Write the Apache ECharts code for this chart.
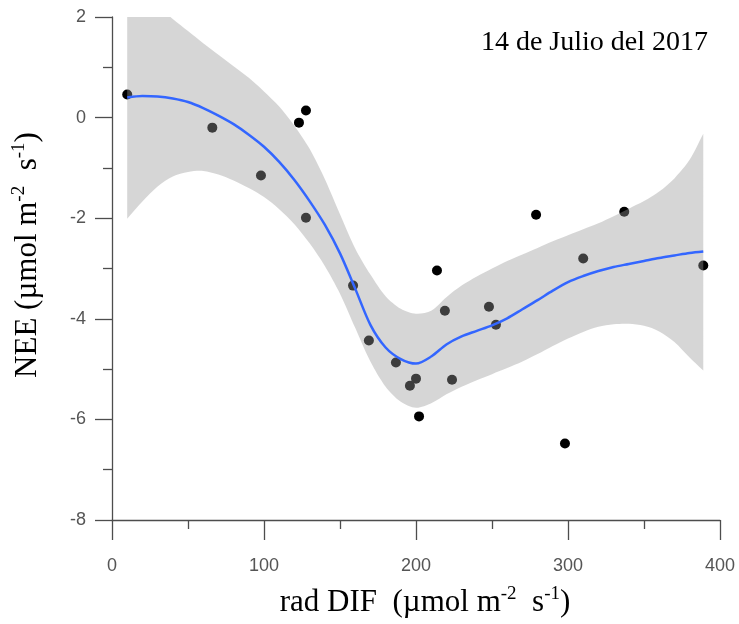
<!DOCTYPE html>
<html>
<head>
<meta charset="utf-8">
<title>NEE vs rad DIF</title>
<script src="https://cdn.jsdelivr.net/npm/echarts@6/dist/echarts.min.js"></script>
<style>
  html, body { margin: 0; padding: 0; background: #fff; }
  #chart { width: 739px; height: 624px; }
</style>
</head>
<body>
<div id="chart"></div>
<script>
// Observations: diffuse radiation (x) vs NEE (y)
const obsX = [10, 66, 98, 123, 127.6, 127.6, 158.6, 169, 186.8, 196, 200, 202, 213.8, 219, 223.7, 248, 252.6, 279, 298, 310, 337, 389];
const obsY = [0.46, -0.20, -1.15, -0.10, 0.14, -1.99, -3.34, -4.43, -4.87, -5.33, -5.19, -5.94, -3.04, -3.84, -5.21, -3.76, -4.12, -1.93, -6.48, -2.80, -1.87, -2.94];

// Smoothed fit and its confidence band, sampled along x
const fitX = [10, 20, 30, 40, 50, 60, 70, 80, 90, 100, 110, 120, 130, 140, 150, 160, 170, 180, 190, 200,
              210, 220, 230, 240, 250, 260, 270, 280, 290, 300, 310, 320, 330, 340, 350, 360, 370, 380, 389];
const fitY = [0.40, 0.43, 0.42, 0.38, 0.31, 0.19, 0.04, -0.13, -0.34, -0.58, -0.88, -1.24, -1.66, -2.13, -2.70, -3.40, -4.12, -4.57, -4.80, -4.89,
              -4.75, -4.51, -4.35, -4.24, -4.13, -3.99, -3.81, -3.63, -3.44, -3.27, -3.15, -3.05, -2.97, -2.91, -2.85, -2.79, -2.74, -2.69, -2.66];
const bandUpper = [2.80, 2.50, 2.22, 1.96, 1.72, 1.48, 1.25, 1.02, 0.79, 0.52, 0.22, -0.16, -0.62, -1.22, -1.92, -2.60, -3.12, -3.55, -3.80, -3.90,
                   -3.84, -3.57, -3.34, -3.16, -3.00, -2.85, -2.72, -2.59, -2.46, -2.34, -2.22, -2.10, -1.96, -1.81, -1.66, -1.47, -1.21, -0.84, -0.32];
const bandLower = [-2.01, -1.67, -1.37, -1.17, -1.08, -1.06, -1.13, -1.25, -1.40, -1.58, -1.82, -2.12, -2.50, -2.95, -3.50, -4.18, -4.85, -5.35, -5.65, -5.77,
                   -5.68, -5.50, -5.35, -5.22, -5.10, -4.98, -4.85, -4.70, -4.54, -4.39, -4.26, -4.16, -4.11, -4.10, -4.14, -4.25, -4.46, -4.77, -5.03];

// Axis ranges and tick steps
const xRange = [0, 400], xStep = 100;
const yRange = [-8, 2], yStep = 2;

const titleText = '14 de Julio del 2017';
const xTitle = 'rad DIF  (µmol m{sup|-2}  s{sup|-1})';
const yTitle = 'NEE (µmol m{sup|-2}  s{sup|-1})';

const pairs = (xs, ys) => xs.map((x, i) => [x, ys[i]]);
const axisGrey = '#4d4d4d';
const serif = '"Liberation Serif", "Times New Roman", serif';

function axisCommon(tickLen, minorLen, labelMargin) {
  return {
    type: 'value',
    axisLine: { show: true, onZero: false, lineStyle: { color: axisGrey, width: 1.3 } },
    axisTick: { show: true, length: tickLen, lineStyle: { color: axisGrey, width: 1.3 } },
    minorTick: { show: true, splitNumber: 2, length: minorLen, lineStyle: { color: axisGrey, width: 1.3 } },
    splitLine: { show: false },
    minorSplitLine: { show: false },
    axisLabel: { color: '#555', fontSize: 18, fontFamily: '"Liberation Sans", Arial, sans-serif', margin: labelMargin }
  };
}

// Confidence ribbon: upper edge left to right, then lower edge back.
// Corner points are repeated so the smoothing keeps the ends square.
function renderBand(params, api) {
  const n = fitX.length;
  const pts = [];
  const up = i => api.coord([fitX[i], bandUpper[i]]);
  const lo = i => api.coord([fitX[i], bandLower[i]]);
  pts.push(up(0));
  for (let i = 0; i < n; i++) pts.push(up(i));
  pts.push(up(n - 1));
  pts.push(lo(n - 1));
  for (let i = n - 1; i >= 0; i--) pts.push(lo(i));
  pts.push(lo(0));
  const cs = params.coordSys;
  return {
    type: 'polygon',
    shape: { points: pts, smooth: 0.3 },
    style: { fill: 'rgba(153,153,153,0.4)', stroke: null },
    clipPath: { type: 'rect', shape: { x: cs.x, y: cs.y, width: cs.width, height: cs.height } }
  };
}

const titleRich = {
  sup: { fontSize: 19, lineHeight: 19, verticalAlign: 'top', fontFamily: serif, fill: '#000' }
};

const chart = echarts.init(document.getElementById('chart'), null, { renderer: 'canvas' });

chart.setOption({
  animation: false,
  backgroundColor: '#fff',
  grid: { left: 112, right: 19, top: 17, bottom: 104 },
  xAxis: Object.assign(axisCommon(20, 9, 37), { min: xRange[0], max: xRange[1], interval: xStep }),
  yAxis: Object.assign(axisCommon(17, 9, 26), { min: yRange[0], max: yRange[1], interval: yStep }),
  series: [
    {
      name: 'obs',
      type: 'scatter',
      z: 1,
      symbolSize: 10,
      itemStyle: { color: '#000', opacity: 1 },
      data: pairs(obsX, obsY)
    },
    {
      name: 'band',
      type: 'custom',
      z: 2,
      silent: true,
      renderItem: renderBand,
      data: [[fitX[0], bandLower[0]]]
    },
    {
      name: 'fit',
      type: 'line',
      z: 3,
      smooth: 0.3,
      symbol: 'none',
      lineStyle: { color: '#3366FF', width: 2.5 },
      data: pairs(fitX, fitY)
    }
  ],
  graphic: [
    {
      type: 'text',
      x: 708, y: 43,
      style: { text: titleText, align: 'right', verticalAlign: 'middle', fontSize: 28, fontFamily: serif, fill: '#000' }
    },
    {
      type: 'text',
      x: 425, y: 603,
      style: { text: xTitle, align: 'center', verticalAlign: 'middle', fontSize: 31, lineHeight: 36, fontFamily: serif, fill: '#000', rich: titleRich }
    },
    {
      type: 'text',
      x: 28, y: 255,
      rotation: Math.PI / 2,
      style: { text: yTitle, align: 'center', verticalAlign: 'middle', fontSize: 31, lineHeight: 36, fontFamily: serif, fill: '#000', rich: titleRich }
    }
  ]
});
</script>
</body>
</html>
